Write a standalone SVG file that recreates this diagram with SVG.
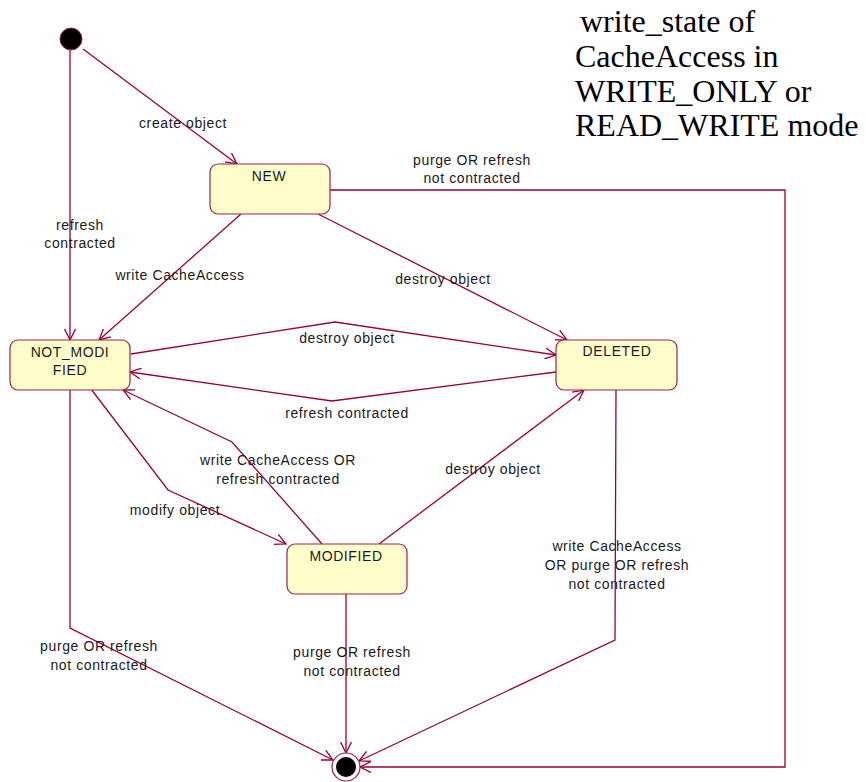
<svg xmlns="http://www.w3.org/2000/svg" width="866" height="782" viewBox="0 0 866 782">
<style>
.st{fill:#FFFFCC;stroke:#A0204A;stroke-width:1.2}
.ln{fill:none;stroke:#99003A;stroke-width:1.3}
.lb{font-family:"Liberation Sans",Arial,sans-serif;font-size:14px;fill:#1a1a1a;text-anchor:middle;letter-spacing:0.6px}
.nt{font-family:"Liberation Serif","Times New Roman",serif;font-size:32px;fill:#000}
</style>
<defs>
<marker id="ah" viewBox="0 0 12 12" refX="11" refY="6" markerWidth="12" markerHeight="12" markerUnits="userSpaceOnUse" orient="auto">
<path d="M0,0.5 L11,6 L0,11.5" fill="none" stroke="#99003A" stroke-width="1.3"/>
</marker>
</defs>
<rect width="866" height="782" fill="#fff"/>
<g id="note">
<text class="nt" x="580" y="32">write_state of</text>
<text class="nt" x="575" y="67">CacheAccess in</text>
<text class="nt" x="575" y="102">WRITE_ONLY or</text>
<text class="nt" x="575" y="136">READ_WRITE mode</text>
</g>
<g id="connectors">
<path class="ln" marker-end="url(#ah)" d="M83,49 L237,164"/>
<path class="ln" marker-end="url(#ah)" d="M70,50 L70,340"/>
<path class="ln" marker-end="url(#ah)" d="M241,214 L99,340"/>
<path class="ln" marker-end="url(#ah)" d="M318,214 L567,340"/>
<path class="ln" marker-end="url(#ah)" d="M330,190 L785,190 L785,767 L360,767"/>
<path class="ln" marker-end="url(#ah)" d="M131,354 L335,322 L556,355"/>
<path class="ln" marker-end="url(#ah)" d="M556,372 L332,401 L130,372"/>
<path class="ln" marker-end="url(#ah)" d="M91,389 L168,490 L286,544"/>
<path class="ln" marker-end="url(#ah)" d="M322,544 L232,442 L123,390"/>
<path class="ln" marker-end="url(#ah)" d="M379,544 L584,390"/>
<path class="ln" marker-end="url(#ah)" d="M616,390 L615,640 L359,761"/>
<path class="ln" marker-end="url(#ah)" d="M70,390 L70,628 L333,760"/>
<path class="ln" marker-end="url(#ah)" d="M346,594 L346,753"/>
<text class="lb" x="183" y="128">create object</text>
<text class="lb" x="80" y="230">refresh</text>
<text class="lb" x="80" y="248">contracted</text>
<text class="lb" x="180" y="280">write CacheAccess</text>
<text class="lb" x="443" y="284">destroy object</text>
<text class="lb" x="472" y="165">purge OR refresh</text>
<text class="lb" x="472" y="183">not contracted</text>
<text class="lb" x="347" y="343">destroy object</text>
<text class="lb" x="347" y="418">refresh contracted</text>
<text class="lb" x="175" y="515">modify object</text>
<text class="lb" x="278" y="465">write CacheAccess OR</text>
<text class="lb" x="278" y="484">refresh contracted</text>
<text class="lb" x="493" y="474">destroy object</text>
<text class="lb" x="617" y="551">write CacheAccess</text>
<text class="lb" x="617" y="570">OR purge OR refresh</text>
<text class="lb" x="617" y="589">not contracted</text>
<text class="lb" x="99" y="651">purge OR refresh</text>
<text class="lb" x="99" y="670">not contracted</text>
<text class="lb" x="352" y="657">purge OR refresh</text>
<text class="lb" x="352" y="676">not contracted</text>
</g>
<g id="initial">
<circle cx="71" cy="39" r="11" fill="#000" stroke="#A0204A" stroke-width="1"/>
</g>
<g id="NEW">
<rect class="st" x="210" y="164" width="120" height="50" rx="8"/>
<text class="lb" x="269" y="181">NEW</text>
</g>
<g id="NOT_MODIFIED">
<rect class="st" x="10" y="340" width="120" height="50" rx="8"/>
<text class="lb" x="70" y="357">NOT_MODI</text>
<text class="lb" x="70" y="375">FIED</text>
</g>
<g id="DELETED">
<rect class="st" x="556" y="340" width="121" height="50" rx="8"/>
<text class="lb" x="617" y="356">DELETED</text>
</g>
<g id="MODIFIED">
<rect class="st" x="287" y="544" width="120" height="50" rx="8"/>
<text class="lb" x="346" y="561">MODIFIED</text>
</g>
<g id="final">
<circle cx="346" cy="767" r="14" fill="#fff" stroke="#A0204A" stroke-width="1.2"/>
<circle cx="346" cy="767" r="10" fill="#000"/>
</g>
</svg>
